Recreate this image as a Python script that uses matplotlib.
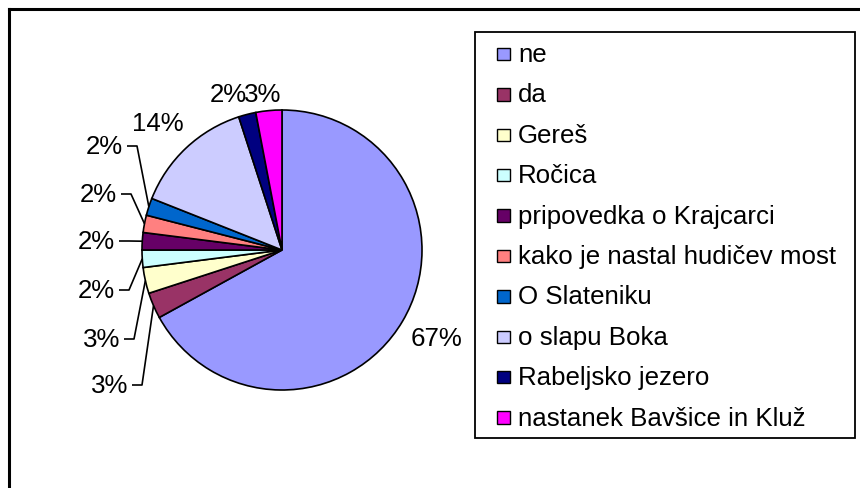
import numpy as np
import matplotlib
matplotlib.use("Agg")
import matplotlib.pyplot as plt
from matplotlib.patches import Rectangle

plt.rcParams['font.family'] = ['Liberation Sans', 'DejaVu Sans']

# ---- data ----
categories = ["ne", "da", "Gereš", "Ročica", "pripovedka o Krajcarci",
              "kako je nastal hudičev most", "O Slateniku", "o slapu Boka",
              "Rabeljsko jezero", "nastanek Bavšice in Kluž"]
values = [67, 3, 3, 2, 2, 2, 2, 14, 2, 3]
pct_labels = ["67%", "3%", "3%", "2%", "2%", "2%", "2%", "14%", "2%", "3%"]
colors = ["#9999FF", "#993366", "#FFFFCC", "#CCFFFF", "#660066",
          "#FF8080", "#0066CC", "#CCCCFF", "#000080", "#FF00FF"]

# ---- layout (pixel coords, y measured from top) ----
W, H = 860, 489
cx, cy, R = 282, 251, 140
FS = 18.6
# label anchor: (x, y, ha, leader?)
label_layout = [
    (437, 339, "center", False),
    (128, 386, "right", True),
    (120, 340, "right", True),
    (115, 291, "right", True),
    (115, 242, "right", True),
    (117, 195, "right", True),
    (123, 147, "right", True),
    (158, 124, "center", False),
    (228, 95, "center", False),
    (263, 95, "center", False),
]

fig = plt.figure(figsize=(W / 100, H / 100), dpi=100)
ax = fig.add_axes([0, 0, 1, 1])

def Y(y):
    return H - y

wedges, _ = ax.pie(values, colors=colors, startangle=90, counterclock=False,
                   center=(cx, Y(cy)), radius=R,
                   wedgeprops=dict(edgecolor="black", linewidth=1.2))
ax.set_xlim(0, W)
ax.set_ylim(0, H)
ax.set_aspect("equal")
ax.axis("off")

# labels
for w, lab, (lx, ly, ha, leader) in zip(wedges, pct_labels, label_layout):
    ax.text(lx, Y(ly), lab, ha=ha, va="center", fontsize=FS, color="black")
    if leader:
        mid = np.deg2rad((w.theta1 + w.theta2) / 2)
        px = cx + R * np.cos(mid)
        py = Y(cy) + R * np.sin(mid)
        ax.plot([lx + 4, lx + 14, px], [Y(ly), Y(ly), py], color="black",
                lw=1.2, solid_capstyle="butt")

# outer chart frame
ax.plot([9, 9], [Y(10), -5], color="black", lw=2.2, solid_capstyle="projecting")
ax.plot([9, W + 5], [Y(10), Y(10)], color="black", lw=2.2, solid_capstyle="projecting")

# legend
lx0, ly0, lx1, ly1 = 475, 33, 855, 439
ax.add_patch(Rectangle((lx0, Y(ly1)), lx1 - lx0, ly1 - ly0, fill=False,
                       edgecolor="black", lw=1.3))
row0, dy = 55, 40.4
msz = 12.5
for i, (cat, col) in enumerate(zip(categories, colors)):
    yy = row0 + i * dy
    ax.add_patch(Rectangle((497, Y(yy) - msz / 2), msz, msz, facecolor=col,
                           edgecolor="black", lw=1.0))
    ax.text(518, Y(yy), cat, ha="left", va="center", fontsize=FS, color="black")

fig.savefig("out.png", dpi=100)
